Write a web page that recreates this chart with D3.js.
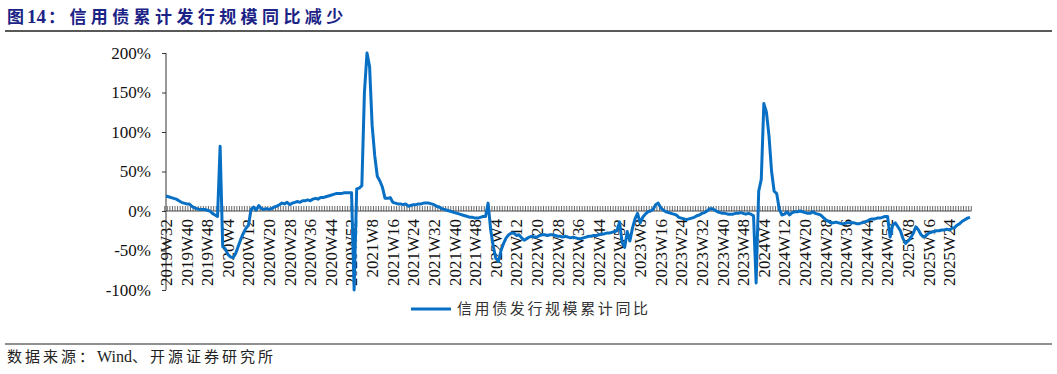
<!DOCTYPE html>
<html><head><meta charset="utf-8">
<script src="https://cdn.jsdelivr.net/npm/d3@7"></script>
<style>body{margin:0;background:#fff}svg{display:block}</style>
</head><body>
<svg id="chart" width="1057" height="374"></svg>
<script>
// ---- data ----
const startYear = 2019, startWeek = 32, weeksPerYear = 52;
const seriesName = "信用债发行规模累计同比";
const values = [
  19, 18, 17, 16, 15, 13, 11, 10, 9, 9,
  6, 4, 3, 2, 2, 2, 1, 0, -3, -5,
  -7, 82, -45, -48, -55, -58, -59, -54, -45, -36,
  -28, -22, -18, 2, 5, 1, 7, 3, 2, 3,
  2, 3, 5, 6, 8, 10, 9, 11, 8, 10,
  11, 12, 11, 13, 13, 14, 13, 15, 16, 15,
  17, 17, 18, 19, 20, 21, 22, 22, 22, 23,
  23, 23, 23, -100, 28, 29, 32, 150, 200, 183,
  108, 70, 44, 38, 30, 16, 16, 17, 11, 10,
  9, 9, 8, 9, 6, 7, 8, 8, 9, 9,
  10, 10, 10, 9, 8, 6, 5, 3, 2, 1,
  0, -1, -2, -3, -4, -5, -6, -7, -8, -8,
  -9, -9, -8, -7, -7, 10, -24, -45, -60, -64,
  -50, -41, -34, -30, -28, -28, -31, -30, -34, -37,
  -35, -33, -32, -33, -33, -31, -30, -30, -31, -30,
  -30, -31, -32, -32, -33, -32, -33, -34, -33, -34,
  -35, -35, -34, -33, -32, -32, -31, -31, -30, -29,
  -29, -28, -28, -27, -26, -25, -14, -40, -46, -26,
  -38, -22, -10, -3, -15, -8, -4, -1, 0, 2,
  8, 10, 4, 1, -1, -2, -3, -4, -5, -8,
  -9, -10, -11, -10, -9, -8, -6, -5, -3, -2,
  0, 3, 3, 1, -1, -2, -3, -3, -4, -4,
  -4, -3, -3, -2, -3, -4, -3, -4, -6, -91,
  25, 40, 136, 125, 95, 50, 25, 22, 2, -5,
  -4, -1, -5, -2, -1, -1, 0, -1, -2, -3,
  -3, -1, -3, -4, -5, -8, -11, -13, -15, -15,
  -14, -15, -16, -16, -15, -15, -15, -15, -16, -16,
  -15, -14, -13, -11, -10, -10, -9, -9, -8, -7,
  -7, -33, -18, -15, -20, -25, -35, -41, -38, -34,
  -28, -20, -24, -30, -33, -31, -28, -27, -26, -25,
  -25, -24, -24, -23, -24, -22, -21, -18, -16, -13,
  -11, -9, -8
];
const yTicks = [-100, -50, 0, 50, 100, 150, 200];
const xTickLabels = [
  "2019W32","2019W40","2019W48",
  "2020W4","2020W12","2020W20","2020W28","2020W36","2020W44","2020W52",
  "2021W8","2021W16","2021W24","2021W32","2021W40","2021W48",
  "2022W4","2022W12","2022W20","2022W28","2022W36","2022W44","2022W52",
  "2023W8","2023W16","2023W24","2023W32","2023W40","2023W48",
  "2024W4","2024W12","2024W20","2024W28","2024W36","2024W44","2024W52",
  "2025W8","2025W16","2025W24"
];
// category names, one per weekly value
const categories = values.map((_, i) => {
  const w = startWeek - 1 + i;
  return (startYear + Math.floor(w / weeksPerYear)) + "W" + (w % weeksPerYear + 1);
});

// ---- drawing ----
const svg = d3.select("#chart");
const serif = "'Liberation Serif','Times New Roman',serif";
const cjk = "'Noto Sans CJK SC','Noto Sans',sans-serif";

const x = d3.scalePoint().domain(categories).range([166, 970]);
const y = d3.scaleLinear().domain([-100, 200]).range([290, 53]);
const step = x.step();

// title and rules
const title = svg.append("text").attr("x", 7).attr("y", 23)
  .attr("font-weight", "bold").attr("font-size", 17).attr("fill", "#1b2386");
title.append("tspan").attr("font-family", cjk).text("图");
title.append("tspan").attr("x", 27).attr("font-family", serif).attr("font-size", 19).text("14");
title.append("tspan").attr("x", 48).attr("font-family", cjk).attr("letter-spacing", "4.4px")
  .text("：信用债累计发行规模同比减少");
svg.append("line").attr("x1", 5).attr("x2", 1052).attr("y1", 31).attr("y2", 31)
  .attr("stroke", "#222").attr("stroke-width", 1.5);
svg.append("line").attr("x1", 5).attr("x2", 1052).attr("y1", 344).attr("y2", 344)
  .attr("stroke", "#222").attr("stroke-width", 1.2);
const src = svg.append("text").attr("x", 7).attr("y", 362)
  .attr("font-size", 15).attr("fill", "#222");
src.append("tspan").attr("font-family", cjk).attr("letter-spacing", "3px").text("数据来源：");
src.append("tspan").attr("font-family", serif).attr("font-size", 16).text("Wind");
src.append("tspan").attr("font-family", cjk).attr("letter-spacing", "3px").text("、开源证券研究所");

// y axis
const yAxis = svg.append("g").attr("transform", "translate(166,0)")
  .call(d3.axisLeft(y).tickValues(yTicks).tickFormat(d => d + "%").tickSize(4).tickPadding(11));
yAxis.select(".domain").attr("stroke", "#333").attr("d", `M0,${y(200)}V${y(-100)}`);
yAxis.selectAll(".tick line").attr("stroke", "#333");
yAxis.selectAll("text").attr("font-family", serif).attr("font-size", 17).attr("fill", "#111");

// x axis at zero: one tick per category boundary
const zeroY = y(0);
const bounds = d3.range(categories.length + 1).map(i => x(categories[0]) - step / 2 + i * step);
const xg = svg.append("g");
xg.selectAll("line.tk").data(bounds).join("line").attr("class", "tk")
  .attr("x1", d => d).attr("x2", d => d).attr("y1", zeroY - 5).attr("y2", zeroY)
  .attr("stroke", "#444").attr("stroke-width", 0.8);
xg.append("line").attr("x1", 166).attr("x2", bounds[bounds.length - 1]).attr("y1", zeroY).attr("y2", zeroY)
  .attr("stroke", "#444").attr("stroke-width", 1.2);
xg.selectAll("text").data(xTickLabels).join("text")
  .attr("transform", d => `translate(${x(d)},${zeroY + 8}) rotate(-90)`)
  .attr("text-anchor", "end").attr("dy", "0.35em")
  .attr("font-family", serif).attr("font-size", 17).attr("fill", "#111")
  .text(d => d);

// series line
const line = d3.line().x((d, i) => x(categories[i])).y(d => y(d));
svg.append("path").datum(values).attr("d", line)
  .attr("fill", "none").attr("stroke", "#0870c4").attr("stroke-width", 3)
  .attr("stroke-linejoin", "round");

// legend
svg.append("line").attr("x1", 411).attr("x2", 451).attr("y1", 309).attr("y2", 309)
  .attr("stroke", "#0870c4").attr("stroke-width", 3);
svg.append("text").attr("x", 457).attr("y", 314)
  .attr("font-family", cjk).attr("font-size", 15).attr("letter-spacing", "2.6px").attr("fill", "#333")
  .text(seriesName);
</script>
</body></html>
